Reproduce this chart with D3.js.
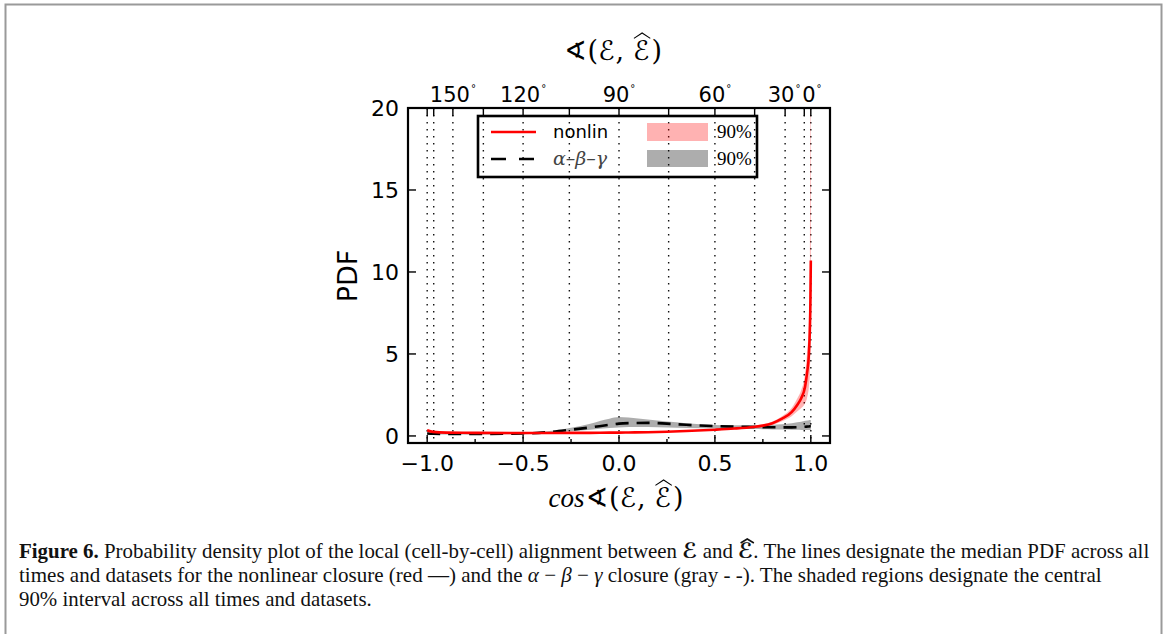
<!DOCTYPE html>
<html>
<head>
<meta charset="utf-8">
<script src="https://cdn.jsdelivr.net/npm/d3@7"></script>
<style>
  body { margin: 0; background: #fff; }
  svg { display: block; }
</style>
</head>
<body>
<div id="chart"></div>
<script>
// cos of the angle between E and E-hat (shared x grid)
const cosGrid = [-1.0, -0.97, -0.9, -0.75, -0.5, -0.35, -0.25, -0.15, -0.05, 0.0, 0.05, 0.15, 0.25, 0.35,
                 0.5, 0.6, 0.7, 0.75, 0.8, 0.85, 0.9, 0.93, 0.95, 0.97, 0.98, 0.99, 0.995, 0.998, 1.0];

// nonlinear closure: median PDF and 90% band
const nonlinMedian = [0.35, 0.25, 0.2, 0.19, 0.18, 0.18, 0.19, 0.19, 0.2, 0.2, 0.21, 0.23, 0.26, 0.3,
                      0.38, 0.45, 0.55, 0.63, 0.78, 1.05, 1.45, 1.9, 2.3, 3.0, 3.8, 5.0, 6.5, 8.3, 10.7];
const nonlinLow = [0.3, 0.22, 0.18, 0.17, 0.16, 0.16, 0.17, 0.17, 0.18, 0.18, 0.19, 0.21, 0.23, 0.27,
                   0.34, 0.4, 0.49, 0.56, 0.68, 0.9, 1.2, 1.5, 1.7, 2.0, 2.3, 3.0, 3.8, 5.5, 8.0];
const nonlinHigh = [0.42, 0.29, 0.23, 0.21, 0.2, 0.2, 0.21, 0.21, 0.22, 0.22, 0.23, 0.25, 0.29, 0.33,
                    0.42, 0.5, 0.62, 0.71, 0.88, 1.2, 1.7, 2.3, 2.8, 3.8, 5.0, 7.0, 10.0, 21, 22];

// alpha-beta-gamma closure: median PDF and 90% band
const abgMedian = [0.15, 0.13, 0.12, 0.12, 0.15, 0.25, 0.38, 0.52, 0.68, 0.75, 0.78, 0.8, 0.75, 0.68,
                   0.6, 0.57, 0.55, 0.54, 0.53, 0.52, 0.52, 0.53, 0.54, 0.56, 0.57, 0.58, 0.59, 0.6, 0.6];
const abgLow = [0.1, 0.09, 0.09, 0.09, 0.11, 0.18, 0.28, 0.38, 0.48, 0.52, 0.55, 0.55, 0.52, 0.48,
                0.45, 0.43, 0.42, 0.41, 0.4, 0.39, 0.38, 0.38, 0.37, 0.37, 0.37, 0.37, 0.37, 0.37, 0.37];
const abgHigh = [0.22, 0.18, 0.16, 0.16, 0.2, 0.32, 0.5, 0.75, 1.05, 1.15, 1.12, 1.0, 0.88, 0.78,
                 0.67, 0.65, 0.65, 0.66, 0.68, 0.72, 0.78, 0.83, 0.87, 0.92, 0.94, 0.96, 0.97, 0.98, 0.98];

// axes
const xTicks = [-1.0, -0.5, 0.0, 0.5, 1.0];
const xMinorTicks = [-0.75, -0.25, 0.25, 0.75];
const yTicks = [0, 5, 10, 15, 20];
const gridAngles = [180, 165, 150, 135, 120, 105, 90, 75, 60, 45, 30, 15, 0];
const angleLabels = [150, 120, 90, 60, 30, 0];

const width = 1168, height = 634;
const svg = d3.select('#chart').append('svg')
    .attr('width', width)
    .attr('height', height);

svg.append('rect').attr('width', width).attr('height', height).attr('fill', '#fff');

// page frame
svg.append('rect')
    .attr('x', 5.5).attr('y', 4.5)
    .attr('width', 1156).attr('height', 700)
    .attr('fill', 'none')
    .attr('stroke', '#9a9a9a')
    .attr('stroke-width', 2);

const plot = { left: 408, right: 830, top: 108, bottom: 443 };
const x = d3.scaleLinear().domain([-1.1, 1.1]).range([plot.left, plot.right]);
const y = d3.scaleLinear().domain([-0.43, 20]).range([plot.bottom, plot.top]);
const rad = d => d * Math.PI / 180;

svg.append('clipPath').attr('id', 'clip')
  .append('rect')
    .attr('x', plot.left).attr('y', plot.top)
    .attr('width', plot.right - plot.left).attr('height', plot.bottom - plot.top);

const rows = cosGrid.map((c, i) => ({
    c: c,
    nm: nonlinMedian[i], nl: nonlinLow[i], nh: nonlinHigh[i],
    am: abgMedian[i], al: abgLow[i], ah: abgHigh[i]
}));

const inner = svg.append('g').attr('clip-path', 'url(#clip)');

// dotted vertical lines at every 15 degrees
inner.selectAll('.grid')
    .data(gridAngles)
    .enter().append('line')
    .attr('x1', d => x(Math.cos(rad(d))))
    .attr('x2', d => x(Math.cos(rad(d))))
    .attr('y1', plot.top)
    .attr('y2', plot.bottom)
    .attr('stroke', '#111')
    .attr('stroke-width', 1.4)
    .attr('stroke-dasharray', '1.4,5.6');

const abgArea = d3.area().curve(d3.curveMonotoneX)
    .x(d => x(d.c)).y0(d => y(d.al)).y1(d => y(d.ah));
const nonlinArea = d3.area().curve(d3.curveMonotoneX)
    .x(d => x(d.c)).y0(d => y(d.nl)).y1(d => y(d.nh));

inner.append('path')
    .attr('d', abgArea(rows))
    .attr('fill', '#000')
    .attr('fill-opacity', 0.32);

inner.append('path')
    .attr('d', nonlinArea(rows))
    .attr('fill', '#ff0000')
    .attr('fill-opacity', 0.3);

const abgLine = d3.line().curve(d3.curveMonotoneX).x(d => x(d.c)).y(d => y(d.am));
const nonlinLine = d3.line().curve(d3.curveMonotoneX).x(d => x(d.c)).y(d => y(d.nm));

inner.append('path')
    .attr('d', abgLine(rows))
    .attr('fill', 'none')
    .attr('stroke', '#000')
    .attr('stroke-width', 2.6)
    .attr('stroke-dasharray', '13,8');

inner.append('path')
    .attr('d', nonlinLine(rows))
    .attr('fill', 'none')
    .attr('stroke', '#ff0000')
    .attr('stroke-width', 2.6);

// frame
svg.append('rect')
    .attr('x', plot.left).attr('y', plot.top)
    .attr('width', plot.right - plot.left).attr('height', plot.bottom - plot.top)
    .attr('fill', 'none')
    .attr('stroke', '#000')
    .attr('stroke-width', 2.2);

// ticks (inward)
const tickStyle = sel => sel.attr('stroke', '#000').attr('stroke-width', 1.4);

svg.selectAll('.xt').data(xTicks).enter().append('line')
    .attr('x1', d => x(d)).attr('x2', d => x(d))
    .attr('y1', plot.bottom).attr('y2', plot.bottom - 8)
    .call(tickStyle);
svg.selectAll('.xmt').data(xMinorTicks).enter().append('line')
    .attr('x1', d => x(d)).attr('x2', d => x(d))
    .attr('y1', plot.bottom).attr('y2', plot.bottom - 4)
    .call(tickStyle);
svg.selectAll('.tt').data(gridAngles).enter().append('line')
    .attr('x1', d => x(Math.cos(rad(d)))).attr('x2', d => x(Math.cos(rad(d))))
    .attr('y1', plot.top).attr('y2', plot.top + 8)
    .call(tickStyle);
svg.selectAll('.ylt').data(yTicks).enter().append('line')
    .attr('x1', plot.left).attr('x2', plot.left + 8)
    .attr('y1', d => y(d)).attr('y2', d => y(d))
    .call(tickStyle);
svg.selectAll('.yrt').data(yTicks).enter().append('line')
    .attr('x1', plot.right).attr('x2', plot.right - 8)
    .attr('y1', d => y(d)).attr('y2', d => y(d))
    .call(tickStyle);

// tick labels
const sans = '"DejaVu Sans", sans-serif';
const fmt = d3.format('.1f');

svg.selectAll('.xl').data(xTicks).enter().append('text')
    .attr('x', d => x(d)).attr('y', 471)
    .attr('text-anchor', 'middle')
    .style('font-family', sans).style('font-size', '22px')
    .text(d => fmt(d).replace('-', '\u2212'));

svg.selectAll('.yl').data(yTicks).enter().append('text')
    .attr('x', plot.left - 9).attr('y', d => y(d) + 8)
    .attr('text-anchor', 'end')
    .style('font-family', sans).style('font-size', '22px')
    .text(d => d);

const tl = svg.selectAll('.tl').data(angleLabels).enter().append('text')
    .attr('x', d => x(Math.cos(rad(d))) - (d === 30 ? 1 : d === 0 ? -1 : 0)).attr('y', 102)
    .attr('text-anchor', 'middle')
    .style('font-family', sans).style('font-size', '21px');
tl.append('tspan').text(d => d);
tl.append('tspan').attr('dx', 1).attr('dy', -10).style('font-size', '10px').text('\u00b0');

svg.append('text')
    .attr('transform', 'translate(357,276) rotate(-90)')
    .attr('text-anchor', 'middle')
    .style('font-family', sans).style('font-size', '27px')
    .text('PDF');

// math-like labels built from pieces so a wide hat can sit over the script E
function mathLabel(parts, cx, baseline, size) {
    const g = svg.append('g');
    let pos = 0;
    parts.forEach(p => {
        const t = g.append('text')
            .attr('x', pos).attr('y', 0)
            .style('font-family', p.font || '"DejaVu Serif", serif')
            .style('font-style', p.italic ? 'italic' : 'normal')
            .style('font-size', size + 'px')
            .text(p.t);
        const w = t.node().getComputedTextLength();
        if (p.hat) {
            g.append('path')
                .attr('d', `M${pos + w * 0.05},${-size * 0.8} L${pos + w * 0.55},${-size * 1.0} L${pos + w * 1.05},${-size * 0.8}`)
                .attr('fill', 'none')
                .attr('stroke', '#000')
                .attr('stroke-width', size * 0.04);
        }
        pos += w + (p.gap || 0);
    });
    g.attr('transform', `translate(${cx - pos / 2},${baseline})`);
}

const scriptFont = '"DejaVu Sans", sans-serif';
const angleParts = [
    { t: '\u2222', font: scriptFont, gap: 1 },
    { t: '(' },
    { t: '\u2130', font: scriptFont, gap: 1 },
    { t: ',', gap: 9 },
    { t: '\u2130', font: scriptFont, hat: true, gap: 2 },
    { t: ')' }
];
mathLabel(angleParts, 613, 60, 27);
mathLabel([{ t: 'cos', italic: true, font: '"Liberation Serif", serif', gap: 1 }].concat(angleParts), 616, 507, 27);

// legend
const lg = svg.append('g');
lg.append('rect')
    .attr('x', 478).attr('y', 116).attr('width', 279).attr('height', 61)
    .attr('fill', 'none').attr('stroke', '#000').attr('stroke-width', 2.6);
lg.append('line')
    .attr('x1', 491).attr('x2', 536).attr('y1', 132).attr('y2', 132)
    .attr('stroke', '#ff0000').attr('stroke-width', 2.6);
lg.append('line')
    .attr('x1', 491).attr('x2', 536).attr('y1', 159).attr('y2', 159)
    .attr('stroke', '#000').attr('stroke-width', 2.6)
    .attr('stroke-dasharray', '15,13');
lg.append('text')
    .attr('x', 553).attr('y', 138)
    .style('font-family', sans).style('font-size', '18px')
    .text('nonlin');
lg.append('text')
    .attr('x', 553).attr('y', 165)
    .style('font-family', '"DejaVu Serif", serif').style('font-style', 'italic')
    .style('font-size', '19px').attr('fill', '#444')
    .text('\u03b1\u2013\u03b2\u2013\u03b3');
lg.append('rect')
    .attr('x', 647).attr('y', 123).attr('width', 61).attr('height', 18)
    .attr('fill', '#ff0000').attr('fill-opacity', 0.3);
lg.append('rect')
    .attr('x', 647).attr('y', 150).attr('width', 61).attr('height', 17)
    .attr('fill', '#000').attr('fill-opacity', 0.32);
lg.selectAll('.pct').data([138, 165]).enter().append('text')
    .attr('x', 717).attr('y', d => d)
    .style('font-family', '"Liberation Serif", serif').style('font-size', '19px')
    .text('90%');

// caption, condensed to fit the original line widths
const serif = '"Liberation Serif", serif';
const captionLines = [
    { y: 558, w: 1131, parts: [
        { t: 'Figure 6.', b: true },
        { t: '\u00a0Probability density plot of the local (cell-by-cell) alignment between\u00a0' },
        { t: '\u2130', b: true, f: scriptFont },
        { t: '\u00a0and\u00a0' },
        { t: '\u2130', b: true, f: scriptFont, hat: true },
        { t: '. The lines designate the median PDF across all' }
    ] },
    { y: 582, w: 1083, parts: [
        { t: 'times and datasets for the nonlinear closure (red \u2014) and the\u00a0' },
        { t: '\u03b1', i: true },
        { t: '\u00a0\u2212\u00a0' },
        { t: '\u03b2', i: true },
        { t: '\u00a0\u2212\u00a0' },
        { t: '\u03b3', i: true },
        { t: '\u00a0closure (gray - -). The shaded regions designate the central' }
    ] },
    { y: 606, w: 353, parts: [
        { t: '90% interval across all times and datasets.' }
    ] }
];
captionLines.forEach(line => {
    const g = svg.append('g');
    const t = g.append('text')
        .attr('x', 0).attr('y', 0)
        .style('font-family', serif).style('font-size', '21px').attr('fill', '#111');
    const hatIdx = [];
    let idx = 0;
    line.parts.forEach(p => {
        const s = t.append('tspan')
            .style('font-weight', p.b ? 'bold' : 'normal')
            .style('font-style', p.i ? 'italic' : 'normal')
            .text(p.t);
        if (p.f) s.style('font-family', p.f);
        if (p.hat) hatIdx.push(idx);
        idx += p.t.length;
    });
    hatIdx.forEach(i => {
        const r = t.node().getExtentOfChar(i);
        g.append('path')
            .attr('d', `M${r.x + 2},${r.y + 4} L${r.x + r.width / 2 + 1},${r.y} L${r.x + r.width},${r.y + 4}`)
            .attr('fill', 'none')
            .attr('stroke', '#111')
            .attr('stroke-width', 1.6);
    });
    const w = t.node().getComputedTextLength();
    g.attr('transform', `translate(19,${line.y}) scale(${line.w / w},1)`);
});
</script>
</body>
</html>
